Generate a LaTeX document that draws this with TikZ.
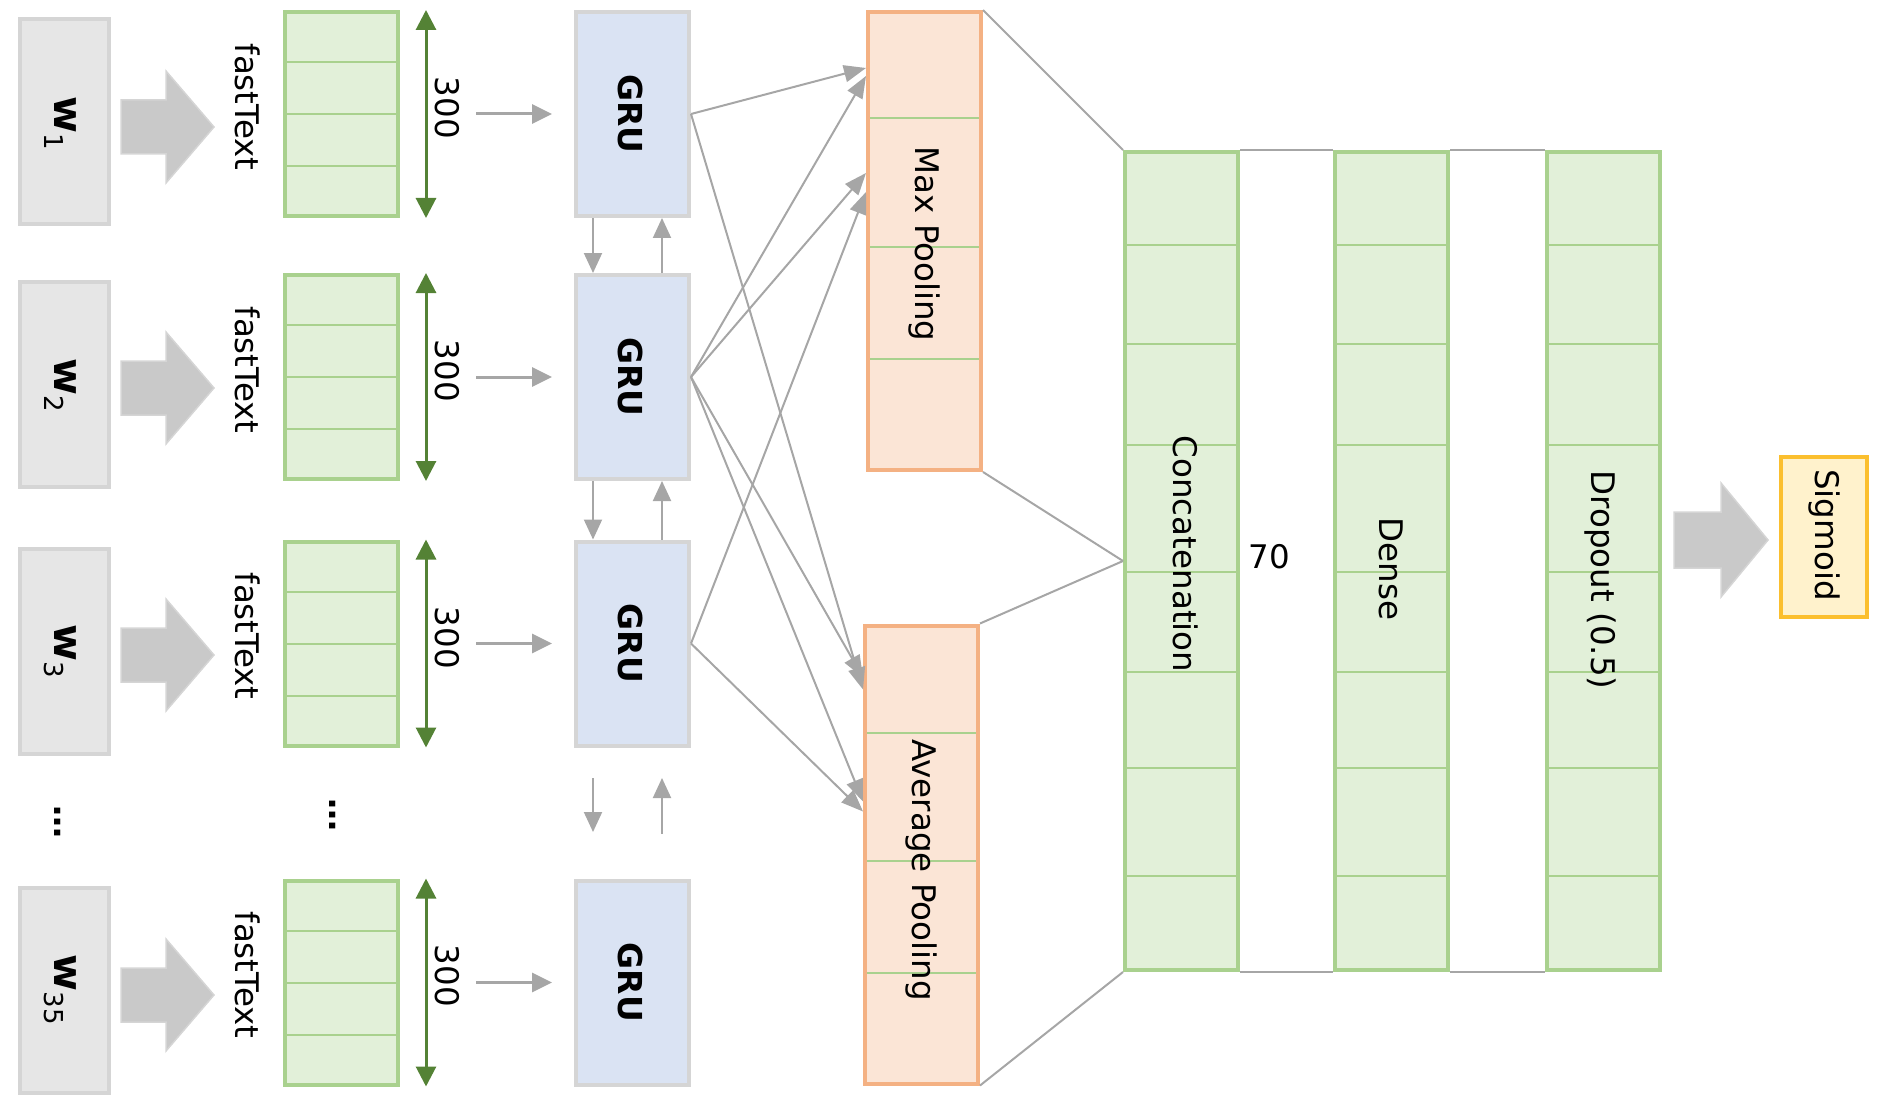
\documentclass[tikz,border=0pt]{standalone}
\usepackage{fontspec}
\setmainfont{DejaVu Sans}
\usetikzlibrary{arrows.meta}
\definecolor{vecfill}{HTML}{E2F0D9}
\definecolor{vecline}{HTML}{A9D18E}
\definecolor{poolfill}{HTML}{FBE5D6}
\definecolor{poolline}{HTML}{F4B183}
\definecolor{grufill}{HTML}{DAE3F3}
\definecolor{boxline}{HTML}{D5D5D5}
\definecolor{wordfill}{HTML}{E6E6E6}
\definecolor{sigfill}{HTML}{FFF2CC}
\definecolor{sigline}{HTML}{FBBF2E}
\definecolor{flowgray}{HTML}{A6A6A6}
\definecolor{dimgreen}{HTML}{548235}
\definecolor{bigarrowgray}{HTML}{C9C9C9}
\newcommand{\wordlabel}[1]{w\raisebox{-10pt}{\fontsize{26}{30}\selectfont\mdseries #1}}

\begin{document}
\begin{tikzpicture}[x=1pt,y=-1pt]
            \tikzstyle{every node}+=[inner sep=0pt, font=\fontsize{32.5}{39}\selectfont]
            \tikzstyle{boldtxt}=[font=\fontsize{33}{39}\selectfont\bfseries]
            \tikzstyle{vert}=[rotate=-90]
            \tikzstyle{wordtxt}=[rotate=-90, font=\fontsize{40}{48}\selectfont\bfseries]
            \tikzstyle{wordbox}=[draw=boxline, fill=wordfill, line width=4pt, minimum width=89pt, minimum height=205pt]
            \tikzstyle{vecbox}=[draw=vecline, fill=vecfill, line width=4pt, minimum width=113pt, minimum height=204pt]
            \tikzstyle{grubox}=[draw=boxline, fill=grufill, line width=4pt, minimum width=113pt, minimum height=204pt]
            \tikzstyle{poolbox}=[draw=poolline, fill=poolfill, line width=4pt, minimum width=113pt, minimum height=458pt]
            \tikzstyle{layerbox}=[draw=vecline, fill=vecfill, line width=4pt, minimum width=113pt, minimum height=818pt]
            \tikzstyle{cell}=[vecline, line width=2pt]
            \tikzstyle{bigarrow}=[fill=bigarrowgray, draw=boxline, line width=1.5pt]
            \tikzstyle{dimarrow}=[dimgreen, line width=3pt, arrows={Triangle[length=20pt,width=20pt]-Triangle[length=20pt,width=20pt]}]
            \tikzstyle{flow}=[flowgray, line width=3pt, arrows={-Triangle[length=20pt,width=19pt]}]
            \tikzstyle{flowthin}=[flowgray, line width=2pt, arrows={-Triangle[length=20pt,width=18pt]}]
            \tikzstyle{poolarrow}=[flowgray, line width=2pt, arrows={-Triangle[length=22pt,width=17pt]}]
            \tikzstyle{link}=[flowgray, line width=2pt]
            \useasboundingbox (0,0) rectangle (1890,1110);
            \node [wordbox] (w1) at (64.5,121.5) {};
            \node [wordbox] (w2) at (64.5,384) {};
            \node [wordbox] (w3) at (64.5,651.5) {};
            \node [wordbox] (w35) at (64.5,990.5) {};
            \node [wordtxt] (wl1) at (60,123) {\wordlabel{1}};
            \node [wordtxt] (wl2) at (60,385) {\wordlabel{2}};
            \node [wordtxt] (wl3) at (60,651) {\wordlabel{3}};
            \node [wordtxt] (wl35) at (60,990) {\wordlabel{35}};
            \node [vert, boldtxt] (dw) at (58,822) {…};
            \filldraw [bigarrow] (121,100) -- (166,100) -- (166,71) -- (214,127) -- (166,183) -- (166,154) -- (121,154) -- cycle;
            \filldraw [bigarrow] (121,361) -- (166,361) -- (166,332) -- (214,388) -- (166,444) -- (166,415) -- (121,415) -- cycle;
            \filldraw [bigarrow] (121,628) -- (166,628) -- (166,599) -- (214,655) -- (166,711) -- (166,682) -- (121,682) -- cycle;
            \filldraw [bigarrow] (121,968) -- (166,968) -- (166,939) -- (214,995) -- (166,1051) -- (166,1022) -- (121,1022) -- cycle;
            \node [vert] (ft1) at (248,107) {fastText};
            \node [vert] (ft2) at (248,370) {fastText};
            \node [vert] (ft3) at (248,636) {fastText};
            \node [vert] (ft35) at (248,975) {fastText};
            \node [vecbox] (v1) at (341.5,114) {};
            \node [vecbox] (v2) at (341.5,377) {};
            \node [vecbox] (v3) at (341.5,643.5) {};
            \node [vecbox] (v35) at (341.5,982.5) {};
            \draw [cell] (285,62) -- (398,62);
            \draw [cell] (285,114) -- (398,114);
            \draw [cell] (285,166) -- (398,166);
            \draw [cell] (285,325) -- (398,325);
            \draw [cell] (285,377) -- (398,377);
            \draw [cell] (285,429) -- (398,429);
            \draw [cell] (285,591.5) -- (398,591.5);
            \draw [cell] (285,643.5) -- (398,643.5);
            \draw [cell] (285,695.5) -- (398,695.5);
            \draw [cell] (285,930.5) -- (398,930.5);
            \draw [cell] (285,982.5) -- (398,982.5);
            \draw [cell] (285,1034.5) -- (398,1034.5);
            \node [vert, boldtxt] (dv) at (333,815) {…};
            \draw [dimarrow] ([xshift=26pt]v1.north east) -- ([xshift=26pt]v1.south east);
            \draw [dimarrow] ([xshift=26pt]v2.north east) -- ([xshift=26pt]v2.south east);
            \draw [dimarrow] ([xshift=26pt]v3.north east) -- ([xshift=26pt]v3.south east);
            \draw [dimarrow] ([xshift=26pt]v35.north east) -- ([xshift=26pt]v35.south east);
            \node [vert] (d1) at (447,108) {300};
            \node [vert] (d2) at (447,371) {300};
            \node [vert] (d3) at (447,638) {300};
            \node [vert] (d35) at (447,976) {300};
            \node [grubox] (g1) at (632.5,114) {};
            \node [grubox] (g2) at (632.5,377) {};
            \node [grubox] (g3) at (632.5,643.5) {};
            \node [grubox] (g35) at (632.5,982.5) {};
            \node [vert, boldtxt] (gl1) at (631,114) {GRU};
            \node [vert, boldtxt] (gl2) at (631,377) {GRU};
            \node [vert, boldtxt] (gl3) at (631,643.5) {GRU};
            \node [vert, boldtxt] (gl35) at (631,982.5) {GRU};
            \draw [flow] ([xshift=-98pt]g1.west) -- ([xshift=-22pt]g1.west);
            \draw [flow] ([xshift=-98pt]g2.west) -- ([xshift=-22pt]g2.west);
            \draw [flow] ([xshift=-98pt]g3.west) -- ([xshift=-22pt]g3.west);
            \draw [flow] ([xshift=-98pt]g35.west) -- ([xshift=-22pt]g35.west);
            \draw [flowthin] ([xshift=19pt]g1.south west) -- ([xshift=19pt]g2.north west);
            \draw [flowthin] ([xshift=88pt]g2.north west) -- ([xshift=88pt]g1.south west);
            \draw [flowthin] ([xshift=19pt]g2.south west) -- ([xshift=19pt]g3.north west);
            \draw [flowthin] ([xshift=88pt]g3.north west) -- ([xshift=88pt]g2.south west);
            \coordinate (dn1) at (593,778);
            \coordinate (dn2) at (593,832);
            \coordinate (up1) at (662,834);
            \coordinate (up2) at (662,778);
            \draw [flowthin] (dn1) -- (dn2);
            \draw [flowthin] (up1) -- (up2);
            \node [poolbox] (maxp) at (924.5,241) {};
            \node [poolbox] (avgp) at (921.5,854.5) {};
            \draw [cell] (870,118) -- (979,118);
            \draw [cell] (870,247) -- (979,247);
            \draw [cell] (870,359) -- (979,359);
            \draw [cell] (867,733) -- (976,733);
            \draw [cell] (867,861) -- (976,861);
            \draw [cell] (867,973) -- (976,973);
            \node [vert] (ml) at (924,244) {Max Pooling};
            \node [vert] (al) at (921,870) {Average Pooling};
            \draw [poolarrow] (g1.east) -- ([yshift=-58pt]maxp.north west);
            \draw [poolarrow] (g2.east) -- ([yshift=-66pt]maxp.north west);
            \draw [poolarrow] (g2.east) -- ([yshift=-163pt]maxp.north west);
            \draw [poolarrow] (g3.east) -- ([yshift=-182pt]maxp.north west);
            \draw [poolarrow] (g2.east) -- ([yshift=-54pt]avgp.north west);
            \draw [poolarrow] (g1.east) -- ([yshift=-66pt]avgp.north west);
            \draw [poolarrow] (g2.east) -- ([yshift=-178pt]avgp.north west);
            \draw [poolarrow] (g3.east) -- ([yshift=-188pt]avgp.north west);
            \node [layerbox] (cat) at (1181.5,561) {};
            \node [layerbox] (den) at (1391.5,561) {};
            \node [layerbox] (drop) at (1603,561) {};
            \draw [cell] (1125,245) -- (1238,245);
            \draw [cell] (1125,344) -- (1238,344);
            \draw [cell] (1125,445) -- (1238,445);
            \draw [cell] (1125,572) -- (1238,572);
            \draw [cell] (1125,672) -- (1238,672);
            \draw [cell] (1125,768) -- (1238,768);
            \draw [cell] (1125,876) -- (1238,876);
            \draw [cell] (1335,245) -- (1448,245);
            \draw [cell] (1335,344) -- (1448,344);
            \draw [cell] (1335,445) -- (1448,445);
            \draw [cell] (1335,572) -- (1448,572);
            \draw [cell] (1335,672) -- (1448,672);
            \draw [cell] (1335,768) -- (1448,768);
            \draw [cell] (1335,876) -- (1448,876);
            \draw [cell] (1547,245) -- (1659,245);
            \draw [cell] (1547,344) -- (1659,344);
            \draw [cell] (1547,445) -- (1659,445);
            \draw [cell] (1547,572) -- (1659,572);
            \draw [cell] (1547,672) -- (1659,672);
            \draw [cell] (1547,768) -- (1659,768);
            \draw [cell] (1547,876) -- (1659,876);
            \node [vert] (catl) at (1186,554) {Concatenation};
            \node [vert] (denl) at (1391,569) {Dense};
            \node [vert] (dropl) at (1600,580) {Dropout (0.5)};
            \node (size) at (1269,557) {70};
            \draw [link] (maxp.north east) -- (cat.north west);
            \draw [link] (maxp.south east) -- (cat.west);
            \draw [link] (avgp.north east) -- (cat.west);
            \draw [link] (avgp.south east) -- (cat.south west);
            \draw [link] (cat.north east) -- (den.north west);
            \draw [link] (cat.south east) -- (den.south west);
            \draw [link] (den.north east) -- (drop.north west);
            \draw [link] (den.south east) -- (drop.south west);
            \filldraw [bigarrow] (1674,512) -- (1721,512) -- (1721,483) -- (1768,540) -- (1721,597) -- (1721,568) -- (1674,568) -- cycle;
            \node [draw=sigline, fill=sigfill, line width=4pt, minimum width=86pt, minimum height=160pt] (sig) at (1824,537) {};
            \node [vert] (sigl) at (1824,535) {Sigmoid};
        \end{tikzpicture}
\end{document}
